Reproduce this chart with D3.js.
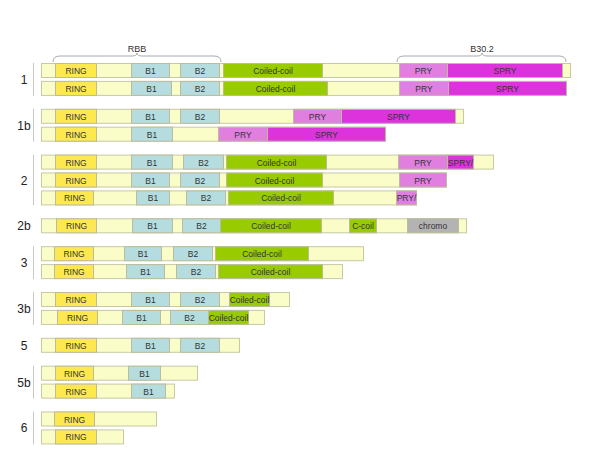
<!DOCTYPE html>
<html><head><meta charset="utf-8">
<script src="https://cdn.jsdelivr.net/npm/d3@7"></script>
<style>body{margin:0;background:#fff}svg{display:block}</style>
</head><body><div id="chart"></div>
<script>
// Groups (row labels)
const groupNames = ["1","1b","2","2b","3","3b","5","5b","6"];
// which group each row belongs to
const rowGroup = [0,0,1,1,2,2,2,3,4,4,5,5,6,7,7,8,8];
// total length of each row (relative units)
const rowLength = [529,525,422,344,452,405,375,425,322,301,248,223,198,156,133,115,82];
// domains per row: [type, start, end, label]
const rowDomains = [
  [["ring",14,55,"RING"],["b",90,128,"B1"],["b",139,178,"B2"],["coil",182,281,"Coiled-coil"],["pry",358,406,"PRY"],["spry",406,521,"SPRY"]],
  [["ring",14,55,"RING"],["b",90,130,"B1"],["b",139,178,"B2"],["coil",182,286,"Coiled-coil"],["pry",358,407,"PRY"],["spry",407,525,"SPRY"]],
  [["ring",14,55,"RING"],["b",90,128,"B1"],["b",139,178,"B2"],["pry",252,300,"PRY"],["spry",300,414,"SPRY"]],
  [["ring",14,55,"RING"],["b",90,131,"B1"],["pry",177,226,"PRY"],["spry",226,344,"SPRY"]],
  [["ring",14,55,"RING"],["b",90,131,"B1"],["b",142,182,"B2"],["coil",185,285,"Coiled-coil"],["pry",357,406,"PRY"],["spry",406,432,"SPRY/"]],
  [["ring",14,55,"RING"],["b",90,128,"B1"],["b",139,178,"B2"],["coil",185,281,"Coiled-coil"],["pry",358,405,"PRY"]],
  [["ring",14,52,"RING"],["b",95,128,"B1"],["b",145,184,"B2"],["coil",187,292,"Coiled-coil"],["pry",355,375,"PRY/"]],
  [["ring",15,55,"RING"],["b",91,131,"B1"],["b",141,179,"B2"],["coil",179,280,"Coiled-coil"],["coil",308,335,"C-coil"],["chromo",366,417,"chromo"]],
  [["ring",13,52,"RING"],["b",83,120,"B1"],["b",132,171,"B2"],["coil",174,267,"Coiled-coil"]],
  [["ring",13,52,"RING"],["b",85,123,"B1"],["b",135,174,"B2"],["coil",177,281,"Coiled-coil"]],
  [["ring",14,55,"RING"],["b",90,128,"B1"],["b",139,178,"B2"],["coil",188,228,"Coiled-coil"]],
  [["ring",16,56,"RING"],["b",81,119,"B1"],["b",129,167,"B2"],["coil",167,207,"Coiled-coil"]],
  [["ring",14,55,"RING"],["b",90,128,"B1"],["b",139,178,"B2"]],
  [["ring",14,52,"RING"],["b",87,119,"B1"]],
  [["ring",14,55,"RING"],["b",90,124,"B1"]],
  [["ring",13,53,"RING"]],
  [["ring",14,55,"RING"]]
];
// braces over row 1: [label, start, end, peak]
const braces = [["RBB",12,180,96],["B30.2",356,525,441]];

const colors = {ring:"#fde94f", b:"#b5dde0", coil:"#99cc00", pry:"#e07fe0", spry:"#dd33dd", chromo:"#b3b3b3", fill:"#fafdc8"};

const W=600,H=469;
const svg=d3.select("#chart").append("svg").attr("width",W).attr("height",H)
  .style("font-family","'Liberation Sans', Arial, sans-serif");

const x=d3.scaleLinear().domain([0,530]).range([41,571]);
const rowStep=17.9, groupGap=10, firstY=63, bh=14;
const y=i=>firstY+rowStep*i+groupGap*rowGroup[i];

// rows
rowLength.forEach((len,i)=>{
  const g=svg.append("g").attr("transform",`translate(0,${y(i)})`);
  g.append("rect").attr("x",x(0)+0.5).attr("y",0.5).attr("width",x(len)-x(0)).attr("height",bh)
    .attr("fill",colors.fill).attr("stroke","#c7c8a4").attr("stroke-width",1);
  rowDomains[i].forEach(d=>{
    g.append("rect").attr("x",x(d[1])+0.5).attr("y",0.5).attr("width",x(d[2])-x(d[1])).attr("height",bh)
      .attr("fill",colors[d[0]]).attr("stroke","#bcbc9c").attr("stroke-width",1);
    g.append("text").attr("x",(x(d[1])+x(d[2]))/2+0.5).attr("y",bh/2+4)
      .attr("text-anchor","middle").attr("font-size",8.5).attr("fill","#333").text(d[3]);
  });
});

// group labels and vertical lines
groupNames.forEach((name,gi)=>{
  const rows=rowGroup.map((g,i)=>g===gi?i:-1).filter(i=>i>=0);
  const y0=y(rows[0]), y1=y(rows[rows.length-1])+bh+1;
  svg.append("text").attr("x",24).attr("y",(y0+y1)/2+4.5).attr("text-anchor","middle")
    .attr("font-size",12).attr("fill","#222").text(name);
  if(rows.length>1){
    svg.append("line").attr("x1",33.5).attr("x2",33.5).attr("y1",y0).attr("y2",y1)
      .attr("stroke","#c8c8c8").attr("stroke-width",1);
  }
});

// braces
braces.forEach(b=>{
  const a=x(b[1]), e=x(b[2]), p=x(b[3]);
  const yb=y(0)-1, yt=y(0)-7, yp=y(0)-10;
  const path=`M${a},${yb} Q${a},${yt} ${a+7},${yt} L${p-5},${yt} Q${p},${yt} ${p},${yp} Q${p},${yt} ${p+5},${yt} L${e-7},${yt} Q${e},${yt} ${e},${yb}`;
  svg.append("path").attr("d",path).attr("fill","none").attr("stroke","#aaa").attr("stroke-width",1);
  svg.append("text").attr("x",p).attr("y",yp-1.5).attr("text-anchor","middle")
    .attr("font-size",9).attr("fill","#333").text(b[0]);
});
</script></body></html>
